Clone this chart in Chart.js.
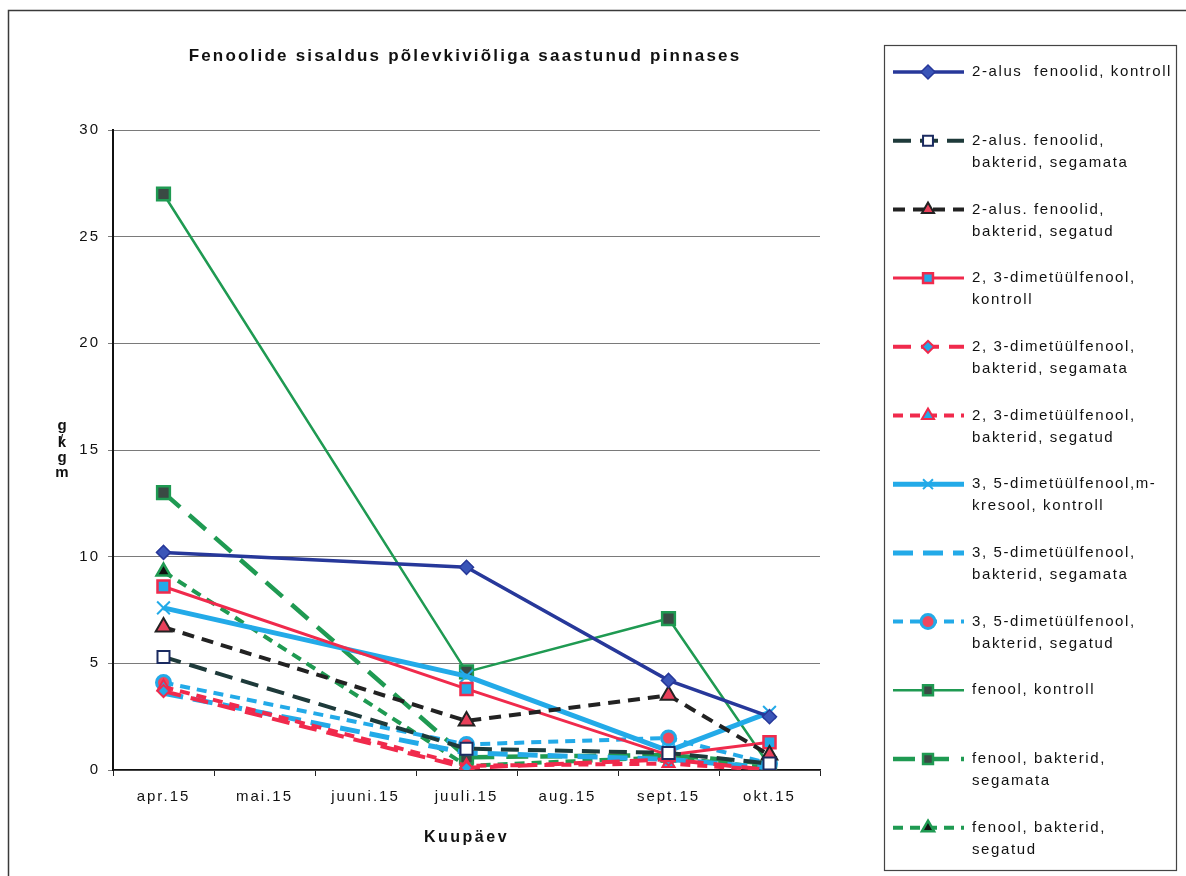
<!DOCTYPE html>
<html>
<head>
<meta charset="utf-8">
<script src="https://cdn.jsdelivr.net/npm/chart.js@4/dist/chart.umd.min.js"></script>
<style>
  html, body { margin: 0; padding: 0; background: #fff; }
  #wrap { position: relative; width: 1186px; height: 876px; }
  canvas { display: block; }
</style>
</head>
<body>
<div id="wrap"><canvas id="c" width="1186" height="876"></canvas></div>
<script>
// Sampling dates (months without measurements are left empty)
const months = ['apr.15', 'mai.15', 'juuni.15', 'juuli.15', 'aug.15', 'sept.15', 'okt.15'];
const yTicks = [0, 5, 10, 15, 20, 25, 30];

const titleText = 'Fenoolide sisaldus põlevkiviõliga saastunud pinnases';
const xTitle = 'Kuupäev';
const yTitleChars = ['g', 'k', 'g', 'm'];

const seriesNames = [
  '2-alus  fenoolid, kontroll',
  '2-alus. fenoolid,\nbakterid, segamata',
  '2-alus. fenoolid,\nbakterid, segatud',
  '2, 3-dimetüülfenool,\nkontroll',
  '2, 3-dimetüülfenool,\nbakterid, segamata',
  '2, 3-dimetüülfenool,\nbakterid, segatud',
  '3, 5-dimetüülfenool,m-\nkresool, kontroll',
  '3, 5-dimetüülfenool,\nbakterid, segamata',
  '3, 5-dimetüülfenool,\nbakterid, segatud',
  'fenool, kontroll',
  'fenool, bakterid,\nsegamata',
  'fenool, bakterid,\nsegatud'
];

// mg/kg per sampling month
const alusKontroll      = [10.2, null, null, 9.5, null, 4.2, 2.5];
const alusSegamata      = [5.3,  null, null, 1.0, null, 0.8, 0.3];
const alusSegatud       = [6.7,  null, null, 2.3, null, 3.5, 0.7];
const dimet23Kontroll   = [8.6,  null, null, 3.8, null, 0.7, 1.3];
const dimet23Segamata   = [3.7,  null, null, 0.1, null, 0.5, 0.0];
const dimet23Segatud    = [3.9,  null, null, 0.2, null, 0.3, 0.0];
const dimet35Kontroll   = [7.6,  null, null, 4.4, null, 0.9, 2.7];
const dimet35Segamata   = [3.6,  null, null, 0.8, null, 0.5, 0.1];
const dimet35Segatud    = [4.1,  null, null, 1.2, null, 1.5, 0.3];
const fenoolKontroll    = [27.0, null, null, 4.6, null, 7.1, 0.2];
const fenoolSegamata    = [13.0, null, null, 0.6, null, 0.7, 0.3];
const fenoolSegatud     = [9.3,  null, null, 0.2, null, 0.6, 0.1];

const seriesValues = [
  alusKontroll, alusSegamata, alusSegatud,
  dimet23Kontroll, dimet23Segamata, dimet23Segatud,
  dimet35Kontroll, dimet35Segamata, dimet35Segatud,
  fenoolKontroll, fenoolSegamata, fenoolSegatud
];

// Line and marker styling for each series
const NAVY = '#27389a', DARK = '#1e3a3a', RED = '#f02a4c', CYAN = '#23aae8', GREEN = '#1f9a52';
const styles = [
  { color: NAVY,  width: 3.5, dash: [],      point: 'rectRot',  r: 7,   fill: '#3a55b8', pb: NAVY,  pw: 1.5 },
  { color: DARK,  width: 4,   dash: [18, 9], point: 'rect',     r: 8.5, fill: '#ffffff', pb: '#1a2a60', pw: 2 },
  { color: '#222',width: 4,   dash: [12, 8], point: 'triangle', r: 9,   fill: '#e8405a', pb: '#222', pw: 2 },
  { color: RED,   width: 3,   dash: [],      point: 'rect',     r: 8.5, fill: CYAN,      pb: RED,   pw: 2.5 },
  { color: RED,   width: 4,   dash: [18, 10],point: 'rectRot',  r: 6,   fill: CYAN,      pb: RED,   pw: 2 },
  { color: RED,   width: 4,   dash: [10, 7], point: 'triangle', r: 7,   fill: CYAN,      pb: RED,   pw: 2 },
  { color: CYAN,  width: 5,   dash: [],      point: 'crossRot', r: 9,   fill: CYAN,      pb: CYAN,  pw: 2 },
  { color: CYAN,  width: 5,   dash: [20, 10],point: false,      r: 0,   fill: CYAN,      pb: CYAN,  pw: 0 },
  { color: CYAN,  width: 4,   dash: [10, 7], point: 'circle',   r: 7,   fill: '#f0485e', pb: CYAN,  pw: 3 },
  { color: GREEN, width: 2.5, dash: [],      point: 'rect',     r: 9,   fill: '#3a4a44', pb: GREEN, pw: 2.5 },
  { color: GREEN, width: 4.5, dash: [22, 12],point: 'rect',     r: 9,   fill: '#3a4a44', pb: GREEN, pw: 2.5 },
  { color: GREEN, width: 4,   dash: [10, 7], point: 'triangle', r: 8,   fill: '#111',    pb: GREEN, pw: 2.5 }
];

const datasets = seriesValues.map((vals, i) => {
  const s = styles[i];
  return {
    label: seriesNames[i],
    data: vals,
    spanGaps: true,
    borderColor: s.color,
    borderWidth: s.width,
    borderDash: s.dash,
    tension: 0,
    pointStyle: s.point,
    pointRadius: s.r,
    pointHoverRadius: s.r,
    pointBackgroundColor: s.fill,
    pointBorderColor: s.pb,
    pointBorderWidth: s.pw,
    fill: false
  };
});

const FONT = '"Liberation Sans", Arial, sans-serif';

// Page frame, title, axis titles and the boxed legend
const decor = {
  id: 'decor',
  beforeDraw(chart) {
    const ctx = chart.ctx;
    ctx.save();
    ctx.fillStyle = '#fff';
    ctx.fillRect(0, 0, chart.width, chart.height);
    ctx.strokeStyle = '#3a3a3a';
    ctx.lineWidth = 1.5;
    ctx.beginPath();
    ctx.moveTo(8.5, chart.height);
    ctx.lineTo(8.5, 10.5);
    ctx.lineTo(chart.width, 10.5);
    ctx.stroke();
    ctx.restore();
    ctx.letterSpacing = '2px';
  },
  afterDraw(chart) {
    const ctx = chart.ctx;
    const area = chart.chartArea;
    ctx.save();
    ctx.fillStyle = '#111';
    ctx.textBaseline = 'middle';

    // chart title
    ctx.letterSpacing = '2.2px';
    ctx.font = 'bold 17px ' + FONT;
    ctx.textAlign = 'center';
    ctx.fillText(titleText, 465, 56);

    // x axis title
    ctx.letterSpacing = '2.5px';
    ctx.font = 'bold 16px ' + FONT;
    ctx.fillText(xTitle, (area.left + area.right) / 2, 838);

    // stacked y axis title
    ctx.letterSpacing = '0px';
    ctx.font = 'bold 15px ' + FONT;
    const cy = [426, 443, 458, 473];
    yTitleChars.forEach((ch, k) => ctx.fillText(ch, 62, cy[k]));
    ctx.font = '15px ' + FONT;
    ctx.fillText('/', 61, 441);

    // legend box
    ctx.strokeStyle = '#444';
    ctx.lineWidth = 1.2;
    ctx.strokeRect(884.5, 45.5, 292, 825);

    ctx.font = '15px ' + FONT;
    ctx.letterSpacing = '1.6px';
    ctx.textAlign = 'left';
    chart.data.datasets.forEach((ds, i) => {
      const y = 72 + i * 68.7;
      ctx.save();
      ctx.strokeStyle = ds.borderColor;
      ctx.lineWidth = ds.borderWidth;
      ctx.setLineDash(ds.borderDash);
      ctx.beginPath();
      ctx.moveTo(893, y);
      ctx.lineTo(964, y);
      ctx.stroke();
      ctx.restore();
      if (ds.pointStyle) {
        ctx.save();
        ctx.fillStyle = ds.pointBackgroundColor;
        ctx.strokeStyle = ds.pointBorderColor;
        ctx.lineWidth = ds.pointBorderWidth;
        Chart.helpers.drawPoint(ctx, {
          pointStyle: ds.pointStyle,
          radius: Math.min(ds.pointRadius, 7),
          rotation: 0,
          borderWidth: ds.pointBorderWidth
        }, 928, y);
        ctx.restore();
      }
      ctx.fillStyle = '#111';
      ds.label.split('\n').forEach((line, k) => ctx.fillText(line, 972, y + k * 22));
    });
    ctx.restore();
  }
};

new Chart(document.getElementById('c'), {
  type: 'line',
  data: { labels: months, datasets },
  options: {
    responsive: false,
    animation: false,
    devicePixelRatio: 1,
    layout: { padding: { left: 53, right: 366, top: 130, bottom: 0 } },
    plugins: { legend: { display: false }, title: { display: false }, tooltip: { enabled: false } },
    scales: {
      x: {
        offset: true,
        grid: { offset: true, drawOnChartArea: false, drawTicks: true, tickLength: 6, color: '#222' },
        border: { color: '#111', width: 1.5 },
        ticks: { color: '#111', font: { family: FONT, size: 15 }, padding: 12, maxRotation: 0, autoSkip: false },
        afterFit(scale) { scale.height = 106; }
      },
      y: {
        min: 0, max: 30,
        afterBuildTicks(scale) { scale.ticks = yTicks.map(v => ({ value: v })); },
        grid: { color: '#7a7a7a', lineWidth: 1, drawTicks: true, tickLength: 5 },
        border: { color: '#111', width: 2 },
        ticks: { color: '#111', font: { family: FONT, size: 15 }, padding: 8 },
        afterFit(scale) { scale.width = 60; }
      }
    }
  },
  plugins: [decor]
});
</script>
</body>
</html>
